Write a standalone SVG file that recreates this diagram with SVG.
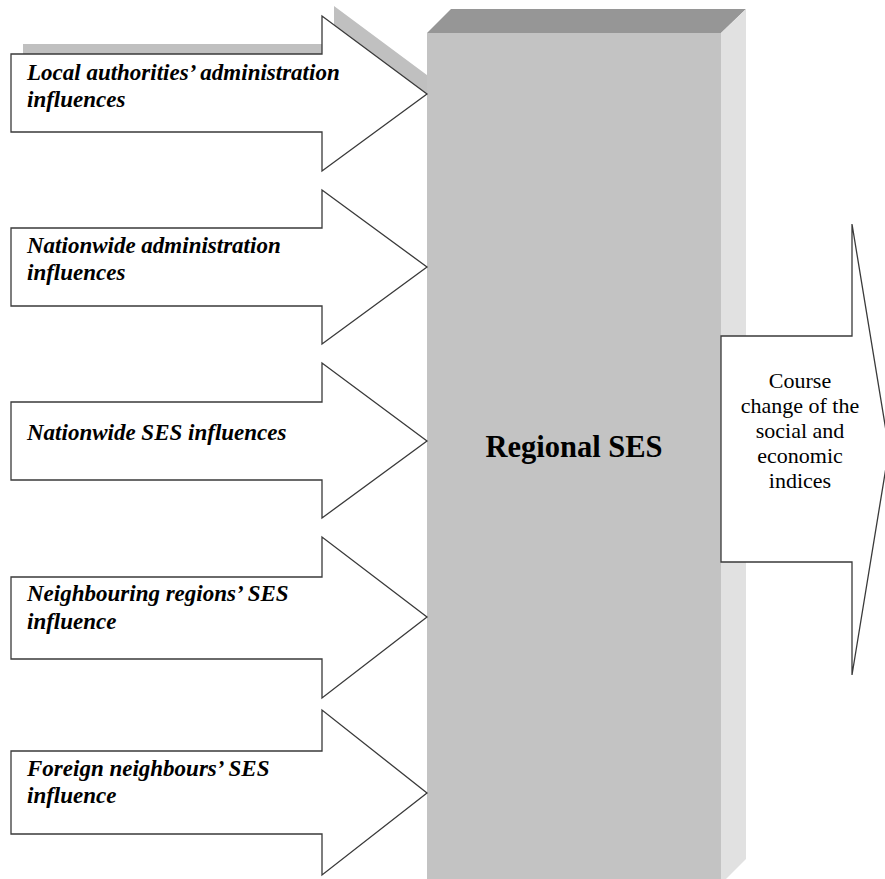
<svg xmlns="http://www.w3.org/2000/svg" width="885" height="879" viewBox="0 0 885 879">
<style>
.arrow{fill:#ffffff;stroke:#3a3a3a;stroke-width:1.3;stroke-linejoin:miter}
.lbl{font-family:"Liberation Serif","Times New Roman",serif;font-weight:bold;font-style:italic;font-size:23px;fill:#000}
.out{font-family:"Liberation Serif","Times New Roman",serif;font-size:22px;fill:#000;text-anchor:middle}
.big{font-family:"Liberation Serif","Times New Roman",serif;font-weight:bold;font-size:30.5px;fill:#000;text-anchor:middle}
</style>
<rect width="885" height="879" fill="#ffffff"/>
<g id="shadow1">
<polygon points="23,44 334,44 334,6 439,84 334,161 334,122 23,122" fill="#c0c0c0"/>
</g>
<g id="regional-ses">
<polygon points="427,33 451,9 746,9 721,33" fill="#969696"/>
<polygon points="721,33 746,9 746,859 721,884" fill="#e1e1e1"/>
<rect x="427" y="33" width="294" height="850" fill="#c3c3c3"/>
<text class="big" x="574" y="457">Regional SES</text>
</g>
<g id="connectors">
<g id="a1">
<polygon class="arrow" points="11,54 322,54 322,16 427,94 322,171 322,132 11,132"/>
<text class="lbl" x="27" y="80">Local authorities’ administration</text>
<text class="lbl" x="27" y="107">influences</text>
</g>
<g id="a2">
<polygon class="arrow" points="11,228 322,228 322,190 427,267 322,344 322,306 11,306"/>
<text class="lbl" x="27" y="253">Nationwide administration</text>
<text class="lbl" x="27" y="280">influences</text>
</g>
<g id="a3">
<polygon class="arrow" points="11,402 322,402 322,363 427,441 322,518 322,480 11,480"/>
<text class="lbl" x="27" y="440">Nationwide SES influences</text>
</g>
<g id="a4">
<polygon class="arrow" points="11,577 322,577 322,537 427,617 322,698 322,659 11,659"/>
<text class="lbl" x="27" y="601">Neighbouring regions’ SES</text>
<text class="lbl" x="27" y="629">influence</text>
</g>
<g id="a5">
<polygon class="arrow" points="11,751 322,751 322,710 427,793 322,875 322,834 11,834"/>
<text class="lbl" x="27" y="776">Foreign neighbours’ SES</text>
<text class="lbl" x="27" y="803">influence</text>
</g>
<g id="out">
<polygon class="arrow" points="721,336 852,336 852,224 889,449 852,675 852,562 721,562"/>
<text class="out" x="800" y="388">Course</text>
<text class="out" x="800" y="413">change of the</text>
<text class="out" x="800" y="438">social and</text>
<text class="out" x="800" y="463">economic</text>
<text class="out" x="800" y="488">indices</text>
</g>
</g>
</svg>
